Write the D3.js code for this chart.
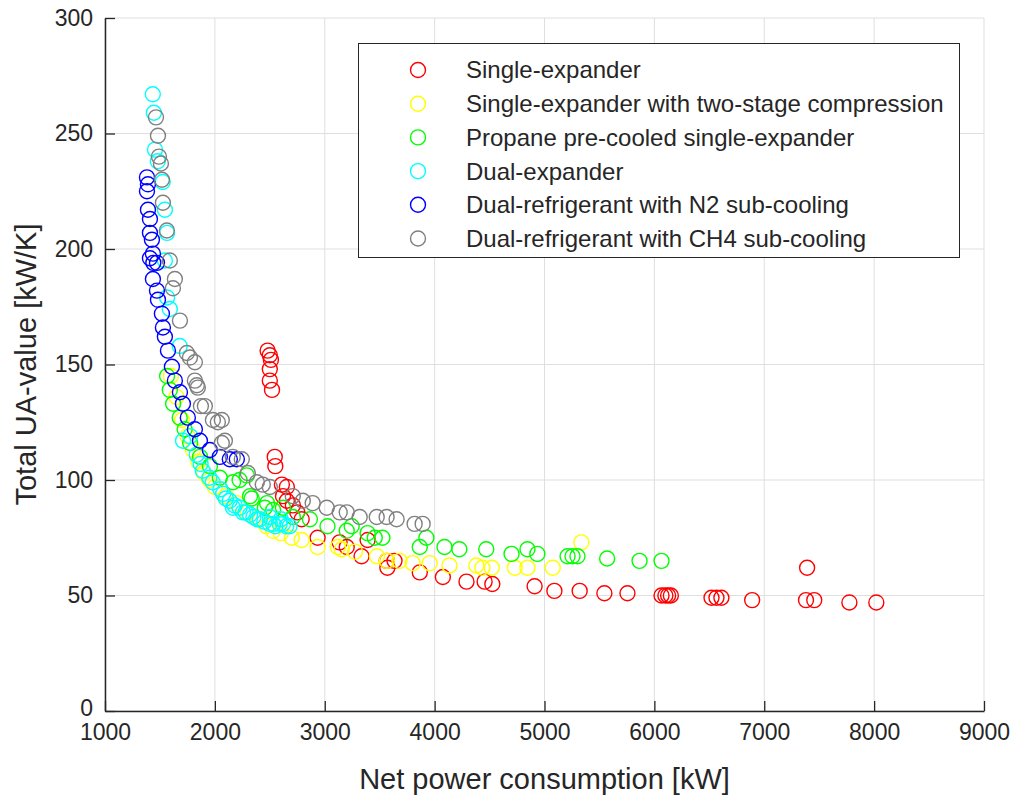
<!DOCTYPE html>
<html>
<head>
<title>UA-value vs net power</title>
<style>
    body { margin: 0; background: #fff; }
    svg text { font-family: "Liberation Sans", Arial, sans-serif; fill: #262626; }
</style>
<script src="https://d3js.org/d3.v7.min.js"></script>
</head>
<body>
<script>
// values: [net power kW, total UA kW/K]
var singleExpander = [
    [2480,156],[2500,154],[2510,152],[2500,148],[2500,143],[2520,139],
    [2545,110],[2550,106],[2610,98],[2655,97],[2620,93],[2655,91],[2710,89],
    [2750,86],[2790,83],[2935,75],[3135,73],[3200,71],[3335,67],[3390,74],
    [3565,65],[3570,62],[3635,65],[3865,60],[4075,58],[4290,56],[4455,56],
    [4525,55],[4910,54],[5090,52],[5320,52],[5545,51],[5755,51],[6065,50],
    [6100,50],[6125,50],[6150,50],[6520,49],[6565,49],[6610,49],[6890,48],
    [7390,62],[7380,48],[7455,48],[7775,47],[8020,47]
];
var twoStage = [
    [1600,145],[1650,136],[1700,126],[1750,119],[1800,113],[1850,108],[1900,103],
    [1950,100],[2000,97],[2100,93],[2200,90],[2300,86],[2400,83],[2470,80],
    [2530,78],[2600,77],[2700,75],[2790,74],[2935,71],[3120,71],[3155,70],
    [3275,69],[3475,67],[3565,65],[3680,65],[3800,64],[3955,64],[4135,63],
    [4380,63],[4435,62],[4520,62],[4730,62],[4845,62],[5075,62],[5335,73]
];
var propane = [
    [1565,145],[1590,139],[1620,133],[1680,127],[1725,122],[1775,116],[1865,110],
    [1955,106],[2045,101],[2165,99],[2225,100],[2290,102],[2320,93],[2335,92],
    [2455,88],[2475,90],[2530,87],[2620,88],[2710,84],[2865,83],[3025,80],
    [3200,78],[3245,80],[3390,77],[3455,75],[3525,75],[3865,71],[3925,75],
    [4090,71],[4225,70],[4470,70],[4700,68],[4845,70],[4935,68],[5210,67],
    [5255,67],[5300,67],[5570,66],[5865,65],[6065,65]
];
var dualExpander = [
    [1435,267],[1445,259],[1455,243],[1480,238],[1525,229],[1545,217],[1565,207],
    [1545,195],[1565,179],[1590,174],[1680,158],[1710,117],[1775,119],[1835,111],
    [1870,107],[1890,104],[1950,101],[1980,99],[2050,96],[2075,94],[2100,92],
    [2135,91],[2165,88],[2180,89],[2225,88],[2255,86],[2280,86],[2320,85],
    [2350,84],[2385,83],[2410,83],[2450,82],[2500,81],[2500,84],[2530,81],
    [2550,80],[2590,81],[2600,83],[2620,81],[2650,80],[2680,80]
];
var n2Sub = [
    [1382,231],[1391,228],[1382,225],[1391,217],[1409,213],[1409,207],[1427,204],
    [1436,198],[1409,196],[1440,194],[1473,194],[1436,187],[1473,182],[1482,178],
    [1518,172],[1527,166],[1545,162],[1573,156],[1609,149],[1636,143],[1682,138],
    [1709,133],[1754,127],[1818,122],[1864,117],[1954,113],[2045,110],[2136,109],
    [2200,109]
];
var ch4Sub = [
    [1464,257],[1482,249],[1491,240],[1509,237],[1518,230],[1527,220],[1563,208],
    [1590,195],[1636,187],[1618,183],[1682,169],[1745,155],[1773,153],[1818,151],
    [1818,143],[1836,141],[1845,140],[1873,132],[1909,132],[1982,126],[2027,125],
    [2063,126],[2063,116],[2091,117],[2163,110],[2245,109],[2300,103],[2382,99],
    [2436,98],[2500,97],[2709,93],[2800,91],[2890,90],[3018,88],[3136,86],
    [3200,86],[3318,84],[3473,84],[3563,84],[3654,83],[3818,81],[3891,81]
];

var seriesNames = [
    "Single-expander",
    "Single-expander with two-stage compression",
    "Propane pre-cooled single-expander",
    "Dual-expander",
    "Dual-refrigerant with N2 sub-cooling",
    "Dual-refrigerant with CH4 sub-cooling"
];
var seriesData = [singleExpander, twoStage, propane, dualExpander, n2Sub, ch4Sub];
var seriesColors = ["#ff0000", "#ffff00", "#00ff00", "#00ffff", "#0000ff", "#808080"];

var xTicks = [1000,2000,3000,4000,5000,6000,7000,8000,9000];
var yTicks = [0,50,100,150,200,250,300];

var width = 1014, height = 798;
var plotLeft = 105, plotRight = 984, plotTop = 18, plotBottom = 711;

var svg = d3.select("body").append("svg")
    .attr("width", width)
    .attr("height", height);

var x = d3.scaleLinear().domain([1000, 9000]).range([plotLeft, plotRight]);
var y = d3.scaleLinear().domain([0, 300]).range([plotBottom, plotTop]);

// grid
var grid = svg.append("g");
grid.selectAll(".vg").data(xTicks).enter().append("line")
    .attr("x1", d => x(d)).attr("x2", d => x(d))
    .attr("y1", plotTop).attr("y2", plotBottom)
    .attr("stroke", "#dfdfdf").attr("stroke-width", 1);
grid.selectAll(".hg").data(yTicks).enter().append("line")
    .attr("x1", plotLeft).attr("x2", plotRight)
    .attr("y1", d => y(d)).attr("y2", d => y(d))
    .attr("stroke", "#dfdfdf").attr("stroke-width", 1);

// axes, ticks point inward
var xAxis = svg.append("g")
    .attr("transform", "translate(0," + plotBottom + ")")
    .call(d3.axisBottom(x).tickValues(xTicks).tickFormat(d3.format("d"))
        .tickSizeInner(-10).tickSizeOuter(0).tickPadding(13));
var yAxis = svg.append("g")
    .attr("transform", "translate(" + plotLeft + ",0)")
    .call(d3.axisLeft(y).tickValues(yTicks).tickFormat(d3.format("d"))
        .tickSizeInner(-10).tickSizeOuter(0).tickPadding(12));

[xAxis, yAxis].forEach(function(a) {
    a.select(".domain").attr("stroke", "#262626").attr("stroke-width", 1.5);
    a.selectAll(".tick line").attr("stroke", "#262626").attr("stroke-width", 1.3);
    a.selectAll(".tick text").attr("fill", "#262626")
        .style("font-size", "23px");
});
// the "0" sits a touch higher than its tick, as in the original
yAxis.selectAll(".tick text").filter(d => d === 0).attr("dy", "0.2em");

// points
seriesData.forEach(function(data, i) {
    svg.append("g").selectAll("circle")
        .data(data).enter().append("circle")
        .attr("cx", d => x(d[0]))
        .attr("cy", d => y(d[1]))
        .attr("r", 7.5)
        .attr("fill", "none")
        .attr("stroke", seriesColors[i])
        .attr("stroke-width", 1.4);
});

// axis labels
svg.append("text")
    .attr("x", (plotLeft + plotRight) / 2).attr("y", 789)
    .attr("text-anchor", "middle")
    .style("font-size", "29px")
    .text("Net power consumption [kW]");
svg.append("text")
    .attr("transform", "translate(36," + ((plotTop + plotBottom) / 2) + ") rotate(-90)")
    .attr("text-anchor", "middle")
    .style("font-size", "29px")
    .text("Total UA-value [kW/K]");

// legend
var legend = svg.append("g");
legend.append("rect")
    .attr("x", 358.5).attr("y", 43.5)
    .attr("width", 601).attr("height", 214)
    .attr("fill", "#fff").attr("stroke", "#262626").attr("stroke-width", 1);
var rows = legend.selectAll(".row").data(seriesNames).enter().append("g")
    .attr("transform", (d, i) => "translate(0," + (70 + i * 33.7) + ")");
rows.append("circle")
    .attr("cx", 418).attr("cy", 0).attr("r", 7.5)
    .attr("fill", "none")
    .attr("stroke", (d, i) => seriesColors[i])
    .attr("stroke-width", 1.4);
rows.append("text")
    .attr("x", 466).attr("y", 0).attr("dy", "0.35em")
    .style("font-size", "24px")
    .text(d => d);
</script>
</body>
</html>
